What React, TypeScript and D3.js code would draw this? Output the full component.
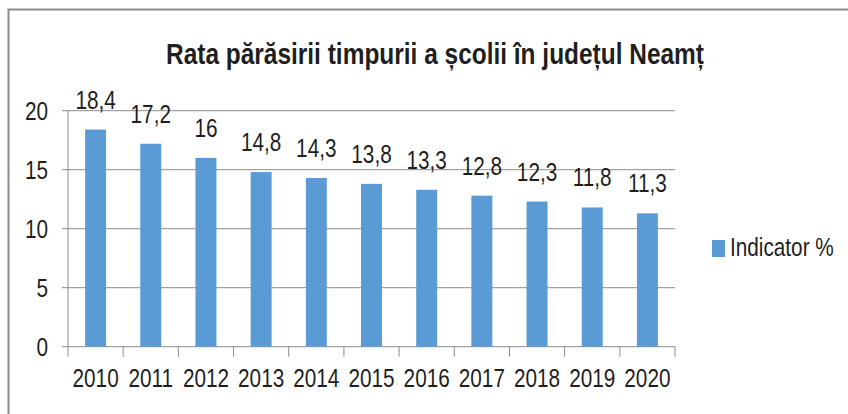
import React, { useEffect, useRef } from 'react';
import * as d3 from 'd3';

// Data
const years = ['2010', '2011', '2012', '2013', '2014', '2015', '2016', '2017', '2018', '2019', '2020'];
const values = [18.4, 17.2, 16, 14.8, 14.3, 13.8, 13.3, 12.8, 12.3, 11.8, 11.3];
const yTicks = [0, 5, 10, 15, 20];
const seriesName = 'Indicator %';
const title = 'Rata părăsirii timpurii a școlii în județul Neamț';

const font = '"Liberation Sans", Arial, sans-serif';
const squeeze = 0.83; // the source font is narrow, so squash horizontally

export default function App() {
    const ref = useRef<SVGSVGElement | null>(null);

    useEffect(() => {
        const svg = d3.select(ref.current);
        svg.selectAll('*').remove();

        const left = 68, right = 675, top = 110.7, bottom = 346.7;

        const label = (parent: any, tx: number, ty: number, txt: string, anchor = 'middle', size = 25) =>
            parent.append('text')
                .attr('transform', `translate(${tx},${ty}) scale(${squeeze},1)`)
                .attr('text-anchor', anchor)
                .style('font-family', font)
                .style('font-size', size + 'px')
                .attr('fill', '#1f1f1f')
                .text(txt);

        // frame
        svg.append('path')
            .attr('d', `M8.5,414 V9.5 H848`)
            .attr('fill', 'none')
            .attr('stroke', '#8c8c8c')
            .attr('stroke-width', 2);

        svg.append('text')
            .attr('x', 166)
            .attr('y', 64)
            .attr('textLength', 538)
            .attr('lengthAdjust', 'spacingAndGlyphs')
            .style('font-family', font)
            .style('font-weight', 'bold')
            .style('font-size', '29px')
            .attr('fill', '#1f1f1f')
            .text(title);

        const x = d3.scaleBand().domain(years).range([left, right]).paddingInner(0.62).paddingOuter(0.31);
        const y = d3.scaleLinear().domain([0, 20]).range([bottom, top]);

        // gridlines + y labels
        const grid = svg.append('g');
        grid.selectAll('line')
            .data(yTicks)
            .enter().append('line')
            .attr('x1', left - 6)
            .attr('x2', right)
            .attr('y1', d => y(d))
            .attr('y2', d => y(d))
            .attr('stroke', '#8c8c8c')
            .attr('stroke-width', 1);
        yTicks.forEach(t => label(grid, 48, y(t) + 9, String(t), 'end'));

        // y axis line
        svg.append('line')
            .attr('x1', left).attr('x2', left)
            .attr('y1', top).attr('y2', bottom)
            .attr('stroke', '#8c8c8c');

        // x axis ticks at category edges
        const edges = years.map(d => (x(d) as number) - x.step() * x.paddingOuter()).concat([right]);
        svg.append('g').selectAll('line')
            .data(edges)
            .enter().append('line')
            .attr('x1', d => d).attr('x2', d => d)
            .attr('y1', bottom).attr('y2', bottom + 10)
            .attr('stroke', '#8c8c8c');

        // bars
        svg.append('g').selectAll('rect')
            .data(values)
            .enter().append('rect')
            .attr('x', (_, i) => x(years[i]) as number)
            .attr('width', x.bandwidth())
            .attr('y', d => y(d))
            .attr('height', d => bottom - y(d))
            .attr('fill', '#5b9bd5');

        // value labels
        const vl = svg.append('g');
        values.forEach((v, i) =>
            label(vl, (x(years[i]) as number) + x.bandwidth() / 2, y(v) - 21, String(v).replace('.', ',')));

        // x labels
        const xl = svg.append('g');
        years.forEach(d => label(xl, (x(d) as number) + x.bandwidth() / 2, 387, d));

        // legend
        svg.append('rect')
            .attr('x', 712).attr('y', 240)
            .attr('width', 13).attr('height', 17)
            .attr('fill', '#5b9bd5');
        label(svg, 730, 256, seriesName, 'start');
    }, []);

    return (
        <svg ref={ref} width={848} height={414}
            style={{ position: 'absolute', left: 0, top: 0, background: '#fff' }} />
    );
}
